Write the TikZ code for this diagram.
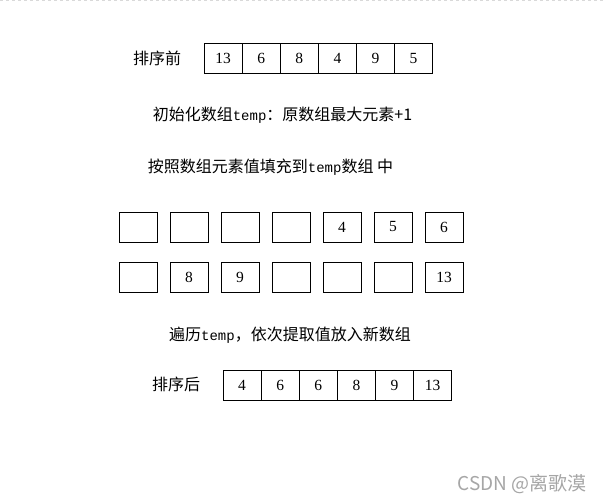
\documentclass[tikz,border=0pt]{standalone}
\usepackage{fontspec}
\setmainfont{Liberation Serif}
\newfontfamily\cjk{Noto Sans CJK SC}
\newfontfamily\mono{Liberation Mono}
\begin{document}
\begin{tikzpicture}[x=1pt,y=-1pt,
  cell/.style={draw=black,line width=1pt,minimum width=38.2pt,minimum height=30.5pt,inner sep=0pt,
    font=\fontsize{15.5}{15.5}\selectfont},
  gcell/.style={draw=black,line width=1pt,minimum width=38pt,minimum height=30pt,inner sep=0pt,
    font=\fontsize{15.5}{15.5}\selectfont},
  lbl/.style={inner sep=0pt,font=\cjk\fontsize{16}{16}\selectfont}]
\useasboundingbox (0,0) rectangle (603,503);
\fill[white] (0,0) rectangle (603,503);
\draw[gray!30,dashed,line width=0.8pt] (0,0.5) -- (603,0.5);
% before
\node[lbl] (before) at (157,58.5) {排序前};
\foreach \v [count=\i] in {13,6,8,4,9,5}
  \node[cell] (a\i) at ({204+19.1+(\i-1)*38.1},58.5) {\v};
% texts
\node[lbl] (t1) at (282.5,115) {初始化数组{\mono\fontsize{14}{14}\selectfont temp}：原数组最大元素+1};
\node[lbl] (t2) at (270.5,167) {按照数组元素值填充到{\mono\fontsize{14}{14}\selectfont temp}数组 中};
% grid
\foreach \v [count=\i] in {{},{},{},{},4,5,6}
  \node[gcell] (g1\i) at ({138+(\i-1)*51},227) {\v};
\foreach \v [count=\i] in {{},8,9,{},{},{},13}
  \node[gcell] (g2\i) at ({138+(\i-1)*51},277.5) {\v};
\node[lbl] (t3) at (290,335) {遍历{\mono\fontsize{14}{14}\selectfont temp}，依次提取值放入新数组};
% after
\node[lbl] (after) at (176,384) {排序后};
\foreach \v [count=\i] in {4,6,6,8,9,13}
  \node[cell] (b\i) at ({223+19.1+(\i-1)*38.1},385.5) {\v};
% watermark
\node[inner sep=0pt,text=gray!70,font=\cjk\fontsize{19}{19}\selectfont] (wm) at (522,484) {CSDN @离歌漠};
\end{tikzpicture}
\end{document}
